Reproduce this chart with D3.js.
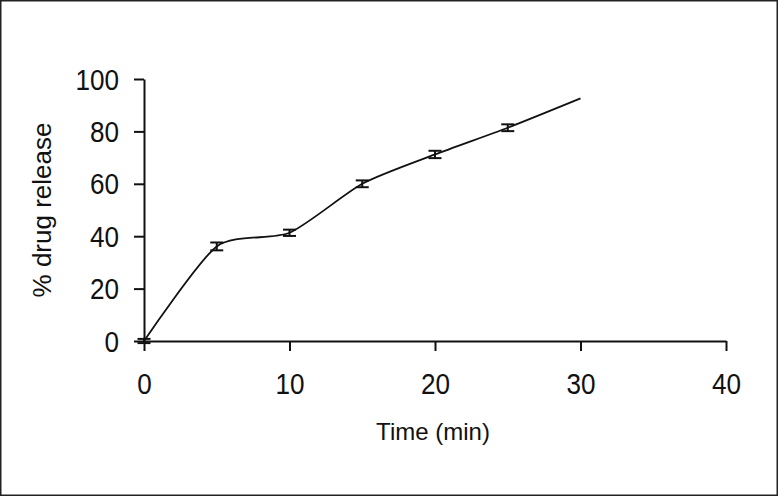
<!DOCTYPE html>
<html>
<head>
<meta charset="utf-8">
<script src="https://cdn.jsdelivr.net/npm/d3@7"></script>
<style>
  body { margin: 0; background: #fff; }
  svg text { font-family: "Liberation Sans", Arial, sans-serif; fill: #111; }
</style>
</head>
<body>
<div id="chart"></div>
<script>
var timeMin = [0, 5, 10, 15, 20, 25, 30];
var release = [0, 36.1, 41.3, 60.0, 71.2, 81.4, 92.6];
var errBar = [0.8, 1.5, 1.2, 1.3, 1.4, 1.3, 0];
var xTicks = [0, 10, 20, 30, 40];
var yTicks = [0, 20, 40, 60, 80, 100];

var width = 778, height = 496;
var svg = d3.select("#chart").append("svg")
    .attr("width", width)
    .attr("height", height);

// frame round the picture
svg.append("rect")
    .attr("x", 0.75).attr("y", 0.75)
    .attr("width", width - 1.5).attr("height", height - 1.5)
    .attr("fill", "none").attr("stroke", "#222").attr("stroke-width", 1.5);

var x = d3.scaleLinear().domain([0, 40]).range([144, 726]);
var y = d3.scaleLinear().domain([0, 100]).range([341, 79]);

// x axis
var gx = svg.append("g").attr("transform", "translate(0," + y(0) + ")")
    .call(d3.axisBottom(x).tickValues(xTicks).tickSize(10).tickSizeOuter(0));
// y axis
var gy = svg.append("g").attr("transform", "translate(" + x(0) + ",0)")
    .call(d3.axisLeft(y).tickValues(yTicks).tickSize(10).tickSizeOuter(0));

[gx, gy].forEach(function (g) {
    g.select(".domain").attr("stroke", "#111").attr("stroke-width", 2);
    g.selectAll(".tick line").attr("stroke", "#111").attr("stroke-width", 2);
    g.selectAll(".tick text").style("font-size", "29px").attr("fill", "#111");
});
// narrow, tall digits as in the original
gx.selectAll(".tick text").attr("x", 0).attr("y", 0).attr("dy", "0.35em")
    .attr("transform", "translate(0,43) scale(0.9,1)");
gy.selectAll(".tick text").attr("x", 0).attr("dy", "0.35em")
    .attr("transform", "translate(-25,0) scale(0.9,1)");

// axis titles
svg.append("text")
    .attr("x", 433).attr("y", 440)
    .attr("text-anchor", "middle")
    .style("font-size", "24px")
    .text("Time (min)");
svg.append("text")
    .attr("transform", "translate(51,210) rotate(-90)")
    .attr("text-anchor", "middle")
    .style("font-size", "26px")
    .text("% drug release");

// release curve (lightly smoothed like the original)
var pts = timeMin.map(function (t, i) { return { t: t, v: release[i], e: errBar[i] }; });
svg.append("path")
    .datum(pts)
    .attr("fill", "none")
    .attr("stroke", "#111")
    .attr("stroke-width", 1.8)
    .attr("d", d3.line().curve(d3.curveCardinal.tension(0.3))
        .x(function (d) { return x(d.t); }).y(function (d) { return y(d.v); }));

// error bars
var cap = 6.5;
var eb = svg.append("g").attr("stroke", "#111").attr("stroke-width", 2);
pts.filter(function (d) { return d.e > 0; }).forEach(function (d) {
    var cx = x(d.t);
    eb.append("line").attr("x1", cx).attr("x2", cx).attr("y1", y(d.v - d.e)).attr("y2", y(d.v + d.e));
    eb.append("line").attr("x1", cx - cap).attr("x2", cx + cap).attr("y1", y(d.v - d.e)).attr("y2", y(d.v - d.e));
    eb.append("line").attr("x1", cx - cap).attr("x2", cx + cap).attr("y1", y(d.v + d.e)).attr("y2", y(d.v + d.e));
});
</script>
</body>
</html>
